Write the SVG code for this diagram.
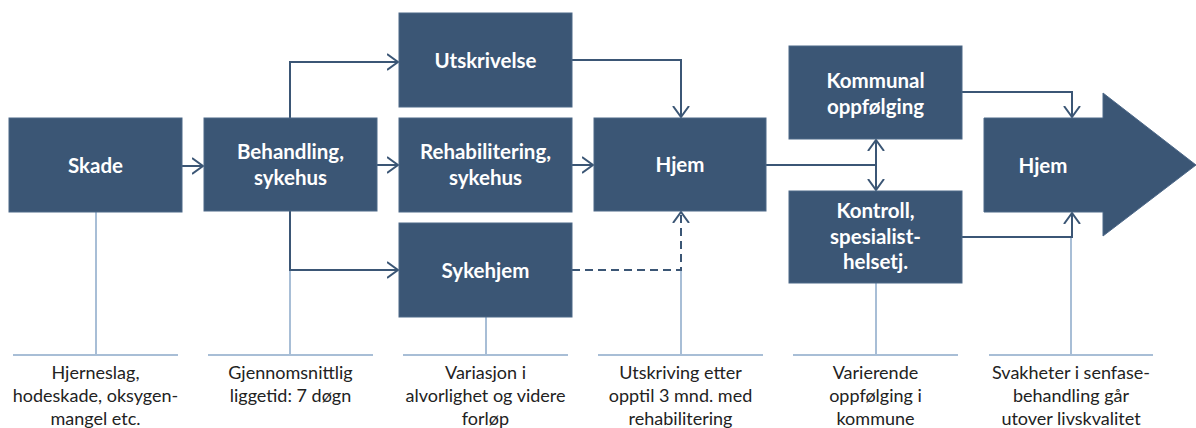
<svg xmlns="http://www.w3.org/2000/svg" width="1196" height="428" viewBox="0 0 1196 428">
<style>
.node{fill:#3b5675;stroke:#4d6888;stroke-width:1}
.nt{font-family:Lato,"Open Sans",sans-serif;font-weight:bold;font-size:20.5px;fill:#ffffff;text-anchor:middle}
.lt{font-family:Lato,"Open Sans",sans-serif;font-size:18px;fill:#222222;text-anchor:middle}
.c{fill:none;stroke:#3b5675;stroke-width:2}
.d{fill:none;stroke:#3b5675;stroke-width:2;stroke-dasharray:8 5}
.lb{fill:none;stroke:#a8bed6;stroke-width:2}
</style>
<defs>
<marker id="ah" viewBox="0 0 12 18" refX="11" refY="9" markerWidth="12" markerHeight="18" markerUnits="userSpaceOnUse" orient="auto">
<path d="M0,1 L11,9 L0,17" fill="none" stroke="#3b5675" stroke-width="2"/>
</marker>
</defs>
<g id="guides">
<path class="lb" d="M96,212V355M13,355H178"/>
<path class="lb" d="M290,270V355M208,355H373"/>
<path class="lb" d="M486,317V355M403,355H568"/>
<path class="lb" d="M681,270V355M598,355H763"/>
<path class="lb" d="M876,283V355M793,355H958"/>
<path class="lb" d="M1071,237V355M989,355H1153"/>
</g>
<g id="connectors">
<path class="c" d="M182,166H203" marker-end="url(#ah)"/>
<path class="c" d="M377,165H398" marker-end="url(#ah)"/>
<path class="c" d="M290,118V62H398" marker-end="url(#ah)"/>
<path class="c" d="M290,211V270H398" marker-end="url(#ah)"/>
<path class="c" d="M572,60H681V117" marker-end="url(#ah)"/>
<path class="c" d="M572,165H593" marker-end="url(#ah)"/>
<path class="d" d="M572,270H681V212" marker-end="url(#ah)"/>
<path class="c" d="M766,165H876"/>
<path class="c" d="M876,165V140" marker-end="url(#ah)"/>
<path class="c" d="M876,165V190" marker-end="url(#ah)"/>
<path class="c" d="M962,92H1072V117" marker-end="url(#ah)"/>
<path class="c" d="M962,237H1072V213" marker-end="url(#ah)"/>
</g>
<g id="skade"><rect class="node" x="9" y="118" width="173" height="94"/><text class="nt" x="95.5" y="172.5">Skade</text></g>
<g id="behandling"><rect class="node" x="204" y="118" width="173" height="93"/><text class="nt" x="290.5" y="159">Behandling,</text><text class="nt" x="290.5" y="184.5">sykehus</text></g>
<g id="utskrivelse"><rect class="node" x="399" y="13" width="173" height="94"/><text class="nt" x="485.5" y="67.5">Utskrivelse</text></g>
<g id="rehabilitering"><rect class="node" x="399" y="118" width="173" height="94"/><text class="nt" x="485.5" y="159">Rehabilitering,</text><text class="nt" x="485.5" y="185">sykehus</text></g>
<g id="sykehjem"><rect class="node" x="399" y="223" width="173" height="94"/><text class="nt" x="485.5" y="277.5">Sykehjem</text></g>
<g id="hjem1"><rect class="node" x="594" y="118" width="172" height="93"/><text class="nt" x="680" y="172">Hjem</text></g>
<g id="kommunal"><rect class="node" x="789" y="46" width="173" height="93"/><text class="nt" x="875.5" y="88">Kommunal</text><text class="nt" x="875.5" y="113.5">oppfølging</text></g>
<g id="kontroll"><rect class="node" x="789" y="191" width="173" height="92"/><text class="nt" x="875.5" y="218">Kontroll,</text><text class="nt" x="875.5" y="243.5">spesialist-</text><text class="nt" x="875.5" y="269">helsetj.</text></g>
<g id="hjem2"><path class="node" d="M984,118H1103V93L1196,165L1103,236V212H984Z"/><text class="nt" x="1043" y="173">Hjem</text></g>
<g id="labels">
<text class="lt" x="95.5" y="379">Hjerneslag,</text><text class="lt" x="95.5" y="402">hodeskade, oksygen-</text><text class="lt" x="95.5" y="424.5">mangel etc.</text>
<text class="lt" x="290.5" y="379">Gjennomsnittlig</text><text class="lt" x="290.5" y="402">liggetid: 7 døgn</text>
<text class="lt" x="485.5" y="379">Variasjon i</text><text class="lt" x="485.5" y="402">alvorlighet og videre</text><text class="lt" x="485.5" y="424.5">forløp</text>
<text class="lt" x="680.5" y="379">Utskriving etter</text><text class="lt" x="680.5" y="402">opptil 3 mnd. med</text><text class="lt" x="680.5" y="424.5">rehabilitering</text>
<text class="lt" x="875.5" y="379">Varierende</text><text class="lt" x="875.5" y="402">oppfølging i</text><text class="lt" x="875.5" y="424.5">kommune</text>
<text class="lt" x="1071" y="379">Svakheter i senfase-</text><text class="lt" x="1071" y="402">behandling går</text><text class="lt" x="1071" y="424.5">utover livskvalitet</text>
</g>
</svg>
